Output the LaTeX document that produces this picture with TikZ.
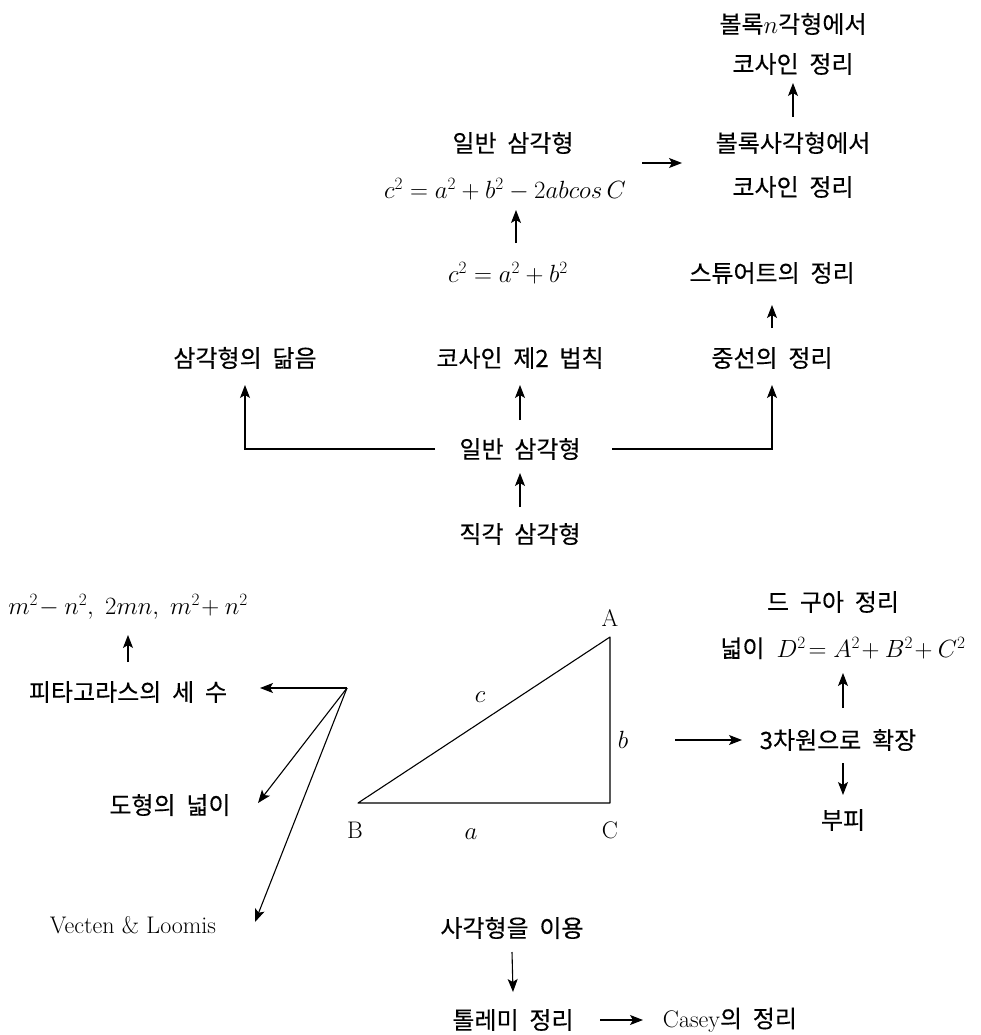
\documentclass[tikz,border=0pt]{standalone}
\usepackage{fontspec}
\newfontfamily\kr[WordSpace=2.0,FakeBold=0.25]{Noto Sans CJK KR}
\usetikzlibrary{arrows.meta}
\begin{document}
\begin{tikzpicture}[x=1pt,y=-1pt,
  every node/.style={inner sep=0pt},
  kt/.style={font=\kr\fontsize{24}{28}\selectfont},
  mt/.style={font=\fontsize{23}{27}\selectfont},
  lt/.style={font=\fontsize{24}{28}\selectfont},
  arr/.style={-{Stealth[length=13pt,width=10pt,inset=3pt]}, line width=1.1pt},
  ln/.style={line width=1.1pt}]
\useasboundingbox (0,0) rectangle (981,1035);
% top right
\node[kt] (ngon1) at (793,24) {볼록$n$각형에서};
\node[kt] (ngon2) at (793,64) {코사인 정리};
\node[kt] (quad1) at (793,143) {볼록사각형에서};
\node[kt] (quad2) at (793,187) {코사인 정리};
\draw[arr] ([yshift=26]quad1.center) -- ([yshift=-19]ngon2.center);
% general triangle formula
\node[kt] (gen1) at (513,143) {일반 삼각형};
\node[mt] (gen2) at (505,189) {$c^2=a^2+b^2-2abcos\,C$};
\draw[arr] ([xshift=137,yshift=26]gen2.center) -- ([xshift=-111,yshift=-20]quad1.center);
\node[mt] (pyth) at (508,273) {$c^2=a^2+b^2$};
\draw[arr] ([xshift=8,yshift=30]pyth.center) -- ([xshift=11,yshift=-21]gen2.center);
\node[kt] (stew) at (772,273) {스튜어트의 정리};
% row
\node[kt] (sim) at (245,358) {삼각형의 닮음};
\node[kt] (cos) at (520,358) {코사인 제2 법칙};
\node[kt] (med) at (772,358) {중선의 정리};
\draw[arr] ([yshift=30]med.center) -- ([yshift=-32]stew.center);
\node[kt] (gen) at (520,449) {일반 삼각형};
\draw[arr] ([yshift=29]gen.center) -- ([yshift=-27]cos.center);
\draw[arr] ([xshift=-85]gen.center) -| ([yshift=-27]sim.center);
\draw[arr] ([xshift=92]gen.center) -| ([yshift=-27]med.center);
\node[kt] (right) at (520,534) {직각 삼각형};
\draw[arr] ([yshift=27]right.center) -- ([yshift=-24]gen.center);
% left
\node[mt] (mn) at (128,607) {$m^2\!-n^2,\ 2mn,\ m^2\!+n^2$};
\node[kt] (triple) at (128,692) {피타고라스의 세 수};
\draw[arr] ([yshift=30]triple.center) -- ([yshift=-28]mn.center);
\node[kt] (area) at (170,805) {도형의 넓이};
\node[lt] (vl) at (133,925) {Vecten \& Loomis};
\coordinate (hub) at (347,688);
\draw[arr] (hub) -- ([xshift=132,yshift=4]triple.center);
\draw[arr] (hub) -- ([xshift=88,yshift=2]area.center);
\draw[arr] (hub) -- ([xshift=122,yshift=3]vl.center);
% triangle
\coordinate (B) at (358,803);
\coordinate (C) at (610,803);
\coordinate (A) at (610,637);
\draw[ln, line join=round] (B) -- (C) -- (A) -- cycle;
\node[lt] (lA) at (610,618) {A};
\node[lt] (lB) at (355,830) {B};
\node[lt] (lC) at (610,830) {C};
\node[mt] (la) at (471,834) {$a$};
\node[mt] (lb) at (623,740) {$b$};
\node[mt] (lc) at (480,697) {$c$};
% right lower
\node[kt] (dg) at (833,602) {드 구아 정리};
\node[kt] (dga) at (843,648) {넓이\enspace\fontsize{23}{27}\selectfont$D^2\!=A^2\!+B^2\!+C^2$};
\node[kt] (ext) at (838,740) {3차원으로 확장};
\draw[arr] ([xshift=52]lb.center) -- ([xshift=-96]ext.center);
\draw[arr] ([xshift=5,yshift=32]ext.center) -- ([xshift=0,yshift=-25]dga.center);
\node[kt] (vol) at (843,820) {부피};
\draw[arr] ([xshift=5,yshift=-23]ext.center) -- ([yshift=25]vol.center);
% bottom
\node[kt] (useq) at (512,928) {사각형을 이용};
\node[kt] (ptol) at (513,1020) {톨레미 정리};
\draw[arr] ([yshift=-24]useq.center) -- ([yshift=28]ptol.center);
\node[lt] (casey) at (730,1020) {Casey{\kr\fontsize{24}{28}\selectfont 의 정리}};
\draw[arr] ([xshift=87]ptol.center) -- ([xshift=-87]casey.center);
\end{tikzpicture}
\end{document}
